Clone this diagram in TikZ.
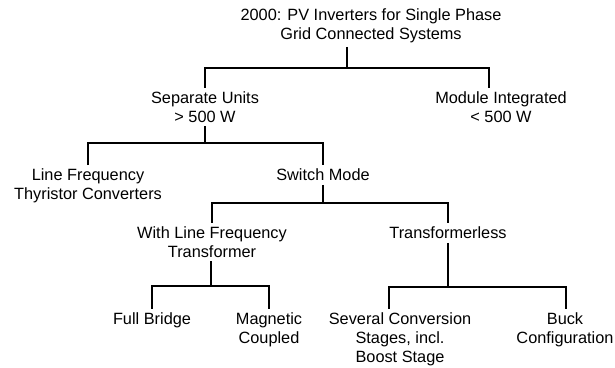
\documentclass[tikz,border=0pt]{standalone}
\usepackage{fontspec}
\setmainfont{Liberation Sans}
\usepackage{tikz}
\usetikzlibrary{positioning}

\begin{document}
\begin{tikzpicture}[
    x=0.025cm, y=-0.025cm,
    item/.style={align=center, inner sep=2.5pt, font=\fontsize{11.6}{13.5}\selectfont},
    branch/.style={line width=0.8pt},
]
    \useasboundingbox (0,0) rectangle (615,367);

    % ── Top level ─────────────────────────────────
    \node[item] (root) at (371,26) {2000: PV Inverters for Single Phase\\Grid Connected Systems};

    % ── Units ─────────────────────────────────────
    \node[item] (sep) at (205,107) {Separate Units\\> 500 W};
    \node[item] (mod) at (501,107) {Module Integrated\\< 500 W};

    % ── Converter types ───────────────────────────
    \node[item] (lft) at (88,186) {Line Frequency\\Thyristor Converters};
    \node[item] (sw)  at (323,175) {Switch Mode};

    % ── Switch mode variants ──────────────────────
    \node[item] (wlf) at (212,242) {With Line Frequency\\Transformer};
    \node[item] (tl)  at (448,233) {Transformerless};

    % ── Topologies ────────────────────────────────
    \node[item] (fb)   at (152,320) {Full Bridge};
    \node[item] (mag)  at (269,330) {Magnetic\\Coupled};
    \node[item] (sev)  at (400,339) {Several Conversion\\Stages, incl.\\Boost Stage};
    \node[item] (buck) at (565,330) {Buck\\Configuration};

    % ── Branches ──────────────────────────────────
    \coordinate (bar0) at (347,68);
    \coordinate (modstem) at (489,0);
    \draw[branch] (root.south -| bar0) -- (bar0);
    \draw[branch] (sep.north) |- (bar0) -| (mod.north -| modstem);

    \coordinate (bar1) at (205,143);
    \draw[branch] (sep.south) -- (bar1);
    \draw[branch] (lft.north) |- (bar1) -| (sw.north);

    \coordinate (bar2) at (323,203);
    \draw[branch] (sw.south) -- (bar2);
    \draw[branch] (wlf.north) |- (bar2) -| (tl.north);

    \coordinate (bar3) at (211,286);
    \draw[branch] (wlf.south -| bar3) -- (bar3);
    \draw[branch] (fb.north) |- (bar3) -| (mag.north);

    \coordinate (bar4) at (448,287);
    \coordinate (sevstem) at (389,0);
    \coordinate (buckstem) at (566,0);
    \draw[branch] (tl.south) -- (bar4);
    \draw[branch] (sev.north -| sevstem) |- (bar4) -| (buck.north -| buckstem);
\end{tikzpicture}
\end{document}
